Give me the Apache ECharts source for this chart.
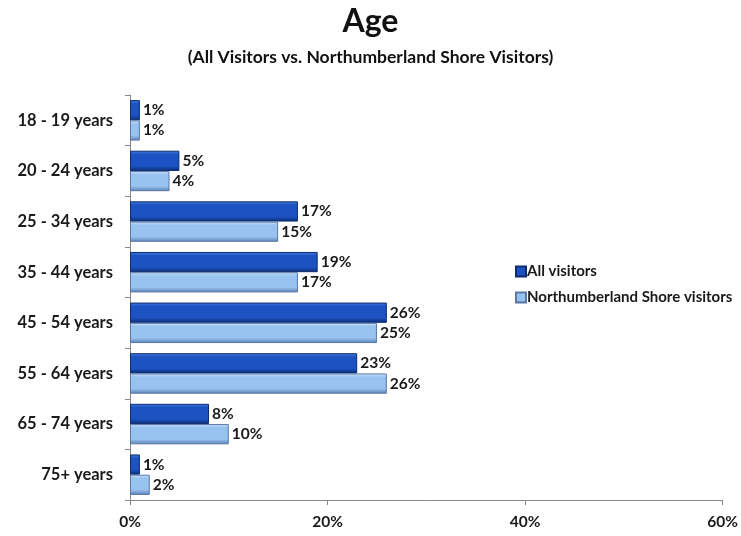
<!DOCTYPE html>
<html>
<head>
<meta charset="utf-8">
<script src="https://cdn.jsdelivr.net/npm/echarts@6/dist/echarts.min.js"></script>
<style>
  html, body { margin: 0; padding: 0; background: #fff; }
  #chart { width: 741px; height: 536px; }
</style>
</head>
<body>
<div id="chart"></div>
<script>
// Age groups, top to bottom
const ageGroups = ['18 - 19 years', '20 - 24 years', '25 - 34 years', '35 - 44 years',
                   '45 - 54 years', '55 - 64 years', '65 - 74 years', '75+ years'];
// Share of visitors (%)
const allVisitors = [1, 5, 17, 19, 26, 23, 8, 1];
const shoreVisitors = [1, 4, 15, 17, 25, 26, 10, 2];
const seriesNames = ['All visitors', 'Northumberland Shore visitors'];
const xTicks = [0, 20, 40, 60];

const FONT = 'Lato';
const INK = '#1a1a1a';

// Bevelled fill for each bar colour
function bevel(edge, mid, light) {
  return new echarts.graphic.LinearGradient(0, 0, 0, 1, [
    { offset: 0, color: light },
    { offset: 0.18, color: mid },
    { offset: 0.75, color: mid },
    { offset: 1, color: edge }
  ]);
}

const chart = echarts.init(document.getElementById('chart'), null, { renderer: 'canvas' });

const labelStyle = {
  show: true,
  position: 'right',
  distance: 3,
  formatter: '{c}%',
  fontFamily: FONT,
  fontWeight: 'bold',
  fontSize: 15.5,
  color: INK
};

chart.setOption({
  animation: false,
  title: [
    {
      text: 'Age',
      left: 'center',
      top: 1,
      textStyle: { fontFamily: FONT, fontWeight: 'bold', fontSize: 32, color: '#111' }
    },
    {
      text: '(All Visitors vs. Northumberland Shore Visitors)',
      left: 'center',
      top: 43,
      textStyle: { fontFamily: FONT, fontWeight: 'bold', fontSize: 17.5, color: '#111' }
    }
  ],
  legend: {
    orient: 'vertical',
    left: 510,
    top: 259,
    itemWidth: 10,
    itemHeight: 10,
    itemGap: 11,
    icon: 'rect',
    textStyle: { fontFamily: FONT, fontWeight: 'bold', fontSize: 15, color: INK, padding: [0, 0, 0, -4] },
    data: seriesNames
  },
  grid: { left: 130, right: 17, top: 95, bottom: 36 },
  xAxis: {
    type: 'value',
    min: 0,
    max: 60,
    interval: 20,
    axisLine: { show: true, lineStyle: { color: '#888' } },
    axisTick: { show: true, length: 5, lineStyle: { color: '#888' } },
    splitLine: { show: false },
    axisLabel: {
      fontFamily: FONT, fontWeight: 'bold', fontSize: 15.5, color: INK, margin: 14,
      formatter: v => xTicks.includes(v) ? v + '%' : ''
    }
  },
  yAxis: {
    type: 'category',
    inverse: true,
    data: ageGroups,
    axisLine: { show: true, lineStyle: { color: '#888' } },
    axisTick: { show: true, length: 5, lineStyle: { color: '#888' } },
    axisLabel: { fontFamily: FONT, fontWeight: 'bold', fontSize: 16.5, color: INK, margin: 17 }
  },
  series: [
    {
      name: seriesNames[0],
      type: 'bar',
      data: allVisitors,
      barGap: '0%',
      barCategoryGap: '20%',
      itemStyle: {
        color: bevel('#0a2f7a', '#1c52c2', '#4a80e0'),
        borderColor: '#0c2c6e',
        borderWidth: 1
      },
      label: labelStyle
    },
    {
      name: seriesNames[1],
      type: 'bar',
      data: shoreVisitors,
      barGap: '0%',
      barCategoryGap: '20%',
      itemStyle: {
        color: bevel('#5b7fb3', '#98c2f0', '#cfe3fb'),
        borderColor: '#5a78a6',
        borderWidth: 1
      },
      label: labelStyle
    }
  ]
});
</script>
</body>
</html>
